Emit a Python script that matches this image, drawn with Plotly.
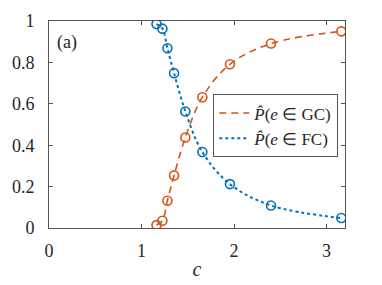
import plotly.graph_objects as go

c_vals = [1.162, 1.226, 1.28, 1.352, 1.474, 1.658, 1.956, 2.40, 3.16]
p_gc = [0.014, 0.035, 0.132, 0.254, 0.437, 0.632, 0.791, 0.891, 0.950]
p_fc = [0.985, 0.963, 0.868, 0.748, 0.563, 0.367, 0.212, 0.109, 0.048]
x_ticks = [0, 1, 2, 3]
y_ticks = [0, 0.2, 0.4, 0.6, 0.8, 1]
y_tick_text = ["0", "0.2", "0.4", "0.6", "0.8", "1"]

RED = "#D95319"
BLUE = "#0072BD"
FONT = "Liberation Serif"

fig = go.Figure()
fig.add_trace(go.Scatter(x=c_vals, y=p_gc, mode="lines", line=dict(color=RED, width=1.6, dash="7px,5px", shape="spline"),
                         name="<i>P̂</i>(<i>e</i> ∈ GC)"))
fig.add_trace(go.Scatter(x=c_vals, y=p_fc, mode="lines", line=dict(color=BLUE, width=2, dash="dot", shape="spline"),
                         name="<i>P̂</i>(<i>e</i> ∈ FC)"))
fig.add_trace(go.Scatter(x=c_vals, y=p_gc, mode="markers", showlegend=False,
                         marker=dict(symbol="circle-open", size=9, color=RED, line=dict(width=1.6))))
fig.add_trace(go.Scatter(x=c_vals, y=p_fc, mode="markers", showlegend=False,
                         marker=dict(symbol="circle-open", size=9, color=BLUE, line=dict(width=1.6))))

axis_common = dict(showline=True, linecolor="#555555", linewidth=1, mirror="ticks", ticks="inside",
                   ticklen=4, tickcolor="#555555", showgrid=False, zeroline=False, automargin=False,
                   tickfont=dict(family=FONT, size=18, color="#262626"))
fig.update_xaxes(range=[0, 3.2], tickvals=x_ticks, ticklabelstandoff=6,
                 title=dict(text="<i>c</i>", font=dict(family=FONT, size=20, color="#262626"), standoff=2),
                 **axis_common)
fig.update_yaxes(range=[0, 1], tickvals=y_ticks, ticktext=y_tick_text, ticklabelstandoff=10, **axis_common)

fig.add_annotation(x=0.02, y=0.895, xref="paper", yref="paper", text="(a)", showarrow=False,
                   xanchor="left", yanchor="middle", font=dict(family=FONT, size=18, color="#262626"))

fig.update_layout(width=382, height=285, margin=dict(l=49, r=37, t=21, b=57, autoexpand=False),
                  plot_bgcolor="white", paper_bgcolor="white",
                  font=dict(family=FONT),
                  legend=dict(x=0.555, y=0.645, xanchor="left", yanchor="top", bgcolor="white",
                              bordercolor="#555555", borderwidth=1, font=dict(family=FONT, size=17, color="#262626"),
                              itemwidth=30, tracegroupgap=0))

fig.write_html("out.html", config={"displayModeBar": False},
               post_script="document.body.style.margin='0';document.body.style.padding='0';")
